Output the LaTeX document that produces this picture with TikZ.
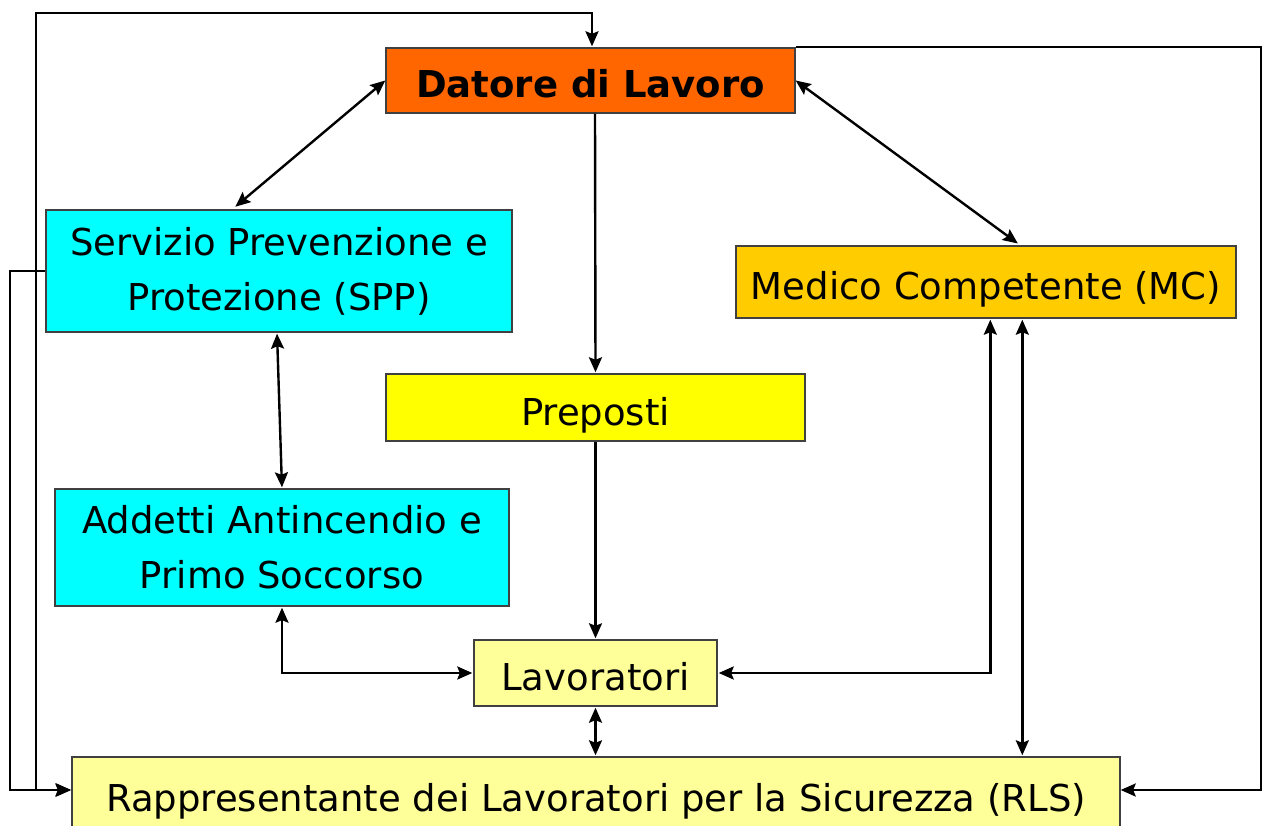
\documentclass[tikz,border=0pt]{standalone}
\usepackage{fontspec}
\setmainfont{DejaVu Sans}
\usetikzlibrary{arrows.meta}
\definecolor{cOrange}{HTML}{FF6600}
\definecolor{cCyan}{HTML}{00FFFF}
\definecolor{cGold}{HTML}{FFCC00}
\definecolor{cYellow}{HTML}{FFFF00}
\definecolor{cLight}{HTML}{FFFF99}
\definecolor{cBorder}{HTML}{404040}
\begin{document}
\begin{tikzpicture}[x=1pt,y=-1pt,
  box/.style={draw=cBorder, line width=1.4pt, inner sep=0pt, align=center,
    font=\fontsize{37}{55}\selectfont},
  oneline/.style={text height=35pt, text depth=0pt},
  twoline/.style={text height=33pt, text depth=66pt},
  conn/.style={line width=2.4pt, black, >={Stealth[length=15pt,width=13pt,inset=2.5pt]}}]
\useasboundingbox (0,0) rectangle (1263,826);
\fill[white] (0,0) rectangle (1263,826);
\node[box, oneline, fill=cOrange, minimum width=409pt, minimum height=65pt,
  font=\fontsize{37}{55}\selectfont\bfseries] (dl) at (590.5,80.5) {Datore di Lavoro};
\node[box, fill=cCyan, minimum width=466pt, minimum height=122pt] (spp) at (279,271)
  {\raisebox{-3pt}{\parbox{466pt}{\centering Servizio Prevenzione e\\Protezione (SPP)}}};
\node[box, oneline, fill=cGold, minimum width=500pt, minimum height=72pt] (mc) at (986,282)
  {Medico Competente (MC)};
\node[box, oneline, fill=cYellow, minimum width=419pt, minimum height=67pt] (prep) at (595.5,407.5)
  {Preposti};
\node[box, fill=cCyan, minimum width=454pt, minimum height=117pt] (add) at (282,547.5)
  {\raisebox{-3pt}{\parbox{454pt}{\centering Addetti Antincendio e\\Primo Soccorso}}};
\node[box, oneline, fill=cLight, minimum width=243pt, minimum height=66pt] (lav) at (595.5,673)
  {Lavoratori};
\node[box, oneline, fill=cLight, minimum width=1048pt, minimum height=74pt] (rls) at (596,794)
  {Rappresentante dei Lavoratori per la Sicurezza (RLS)};
\coordinate (tl) at (36,13);
\coordinate (bl) at (10,790);
\coordinate (br) at (1261,790);
% connectors
\draw[conn,<->,shorten >=4pt] (dl.west) -- ([xshift=187pt]spp.north west);
\draw[conn,<->,shorten >=3pt] (dl.east) -- ([xshift=285pt]mc.north west);
\draw[conn,->,shorten >=1pt] ([xshift=4.5pt]dl.south) -- (prep.north);
\draw[conn,<->,shorten <=1pt,shorten >=1pt] ([xshift=-2pt]spp.south) -- (add.north);
\draw[conn,->,shorten >=1pt] (prep.south) -- (lav.north);
\draw[conn,<->,shorten <=1pt,shorten >=1pt] (add.south) |- (lav.west);
\draw[conn,<->,shorten <=1pt,shorten >=1pt] (lav.east) -| ([xshift=255pt]mc.south west);
\draw[conn,<->,shorten <=1pt,shorten >=1pt] ([xshift=287pt]mc.south west) -- ([xshift=287pt]mc.south west |- rls.north);
\draw[conn,<->,shorten <=1pt,shorten >=1pt] (lav.south) -- (lav.south |- rls.north);
\draw[conn,<->,shorten <=1pt,shorten >=1pt] ([xshift=1.5pt]dl.north) |- (tl) |- ([yshift=4pt]rls.west);
\draw[conn,->] (spp.west) -| (bl) -- ([yshift=4pt]rls.west);
\draw[conn,->] (dl.north east) -| (br) -- ([yshift=4pt]rls.east);
\end{tikzpicture}
\end{document}
